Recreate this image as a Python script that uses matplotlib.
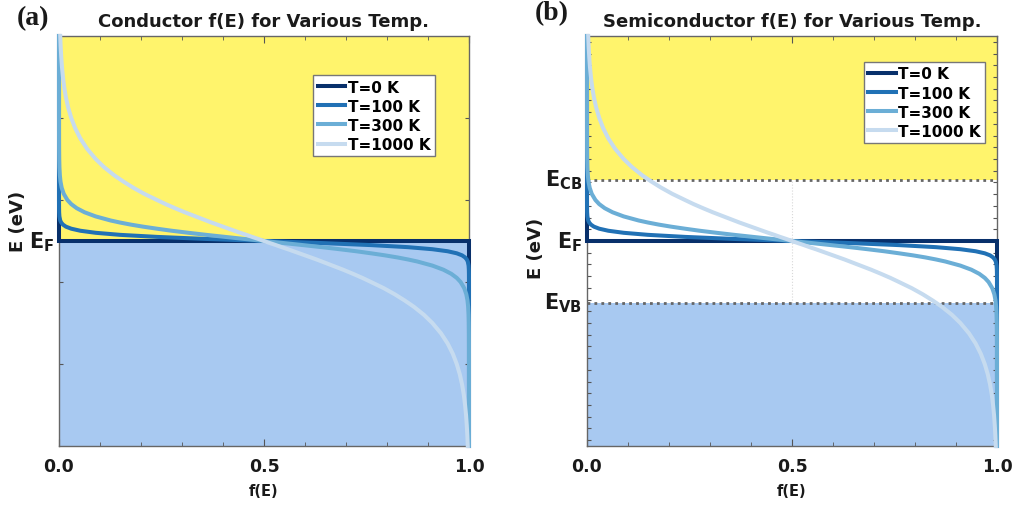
import numpy as np
import matplotlib
matplotlib.use("Agg")
import matplotlib.pyplot as plt
from matplotlib.ticker import MultipleLocator

plt.rcParams["mathtext.fontset"] = "dejavusans"

# energy relative to E_F (eV), sampled from top of the panels down to E_F
e_upper = [0.5, 0.475, 0.45, 0.425, 0.4, 0.375, 0.35, 0.325, 0.3, 0.275, 0.25, 0.225,
           0.2, 0.18, 0.16, 0.145, 0.13, 0.115, 0.1, 0.09, 0.08, 0.07, 0.06, 0.05,
           0.045, 0.04, 0.035, 0.03, 0.025, 0.02, 0.015, 0.01, 0.005, 0.0]
f_100_upper = [0.0, 0.0, 0.0, 0.0, 0.0, 0.0, 0.0, 0.0, 0.0, 0.0, 0.0, 0.0,
               0.0, 0.0, 0.0, 0.0, 0.0, 0.0, 0.00001, 0.00003, 0.0001, 0.0003, 0.00095, 0.003,
               0.0054, 0.0096, 0.0169, 0.0299, 0.0521, 0.0895, 0.149, 0.239, 0.359, 0.5]
f_300_upper = [0.0, 0.0, 0.0, 0.0, 0.0, 0.0, 0.0, 0.0, 0.00001, 0.00002, 0.00006, 0.00017,
               0.00044, 0.00095, 0.0021, 0.00365, 0.0065, 0.0116, 0.0205, 0.0298, 0.0433, 0.0625, 0.0894, 0.126,
               0.149, 0.175, 0.205, 0.239, 0.275, 0.316, 0.359, 0.405, 0.452, 0.5]
f_1000_upper = [0.003, 0.00402, 0.0054, 0.00716, 0.0096, 0.0127, 0.0169, 0.0225, 0.0299, 0.0395, 0.0521, 0.0684,
                0.0894, 0.110, 0.135, 0.157, 0.181, 0.208, 0.239, 0.260, 0.283, 0.307, 0.333, 0.359,
                0.372, 0.386, 0.400, 0.414, 0.428, 0.442, 0.457, 0.471, 0.486, 0.5]

# lower half mirrors the upper half about (0.5, E_F)
energy = e_upper + [-e for e in e_upper[-2::-1]]
curves = {
    "T=100 K": f_100_upper + [1 - f for f in f_100_upper[-2::-1]],
    "T=300 K": f_300_upper + [1 - f for f in f_300_upper[-2::-1]],
    "T=1000 K": f_1000_upper + [1 - f for f in f_1000_upper[-2::-1]],
}
f_0k = [0.0, 0.0, 1.0, 1.0]
e_0k = [0.5, 0.0, 0.0, -0.5]

colors = {"T=0 K": "#08306b", "T=100 K": "#2171b5", "T=300 K": "#6baed6", "T=1000 K": "#c6dbef"}

E_MIN, E_MAX = -0.5, 0.5
E_CB, E_VB = 0.15, -0.15

YELLOW = "#fff46c"
BLUE = "#a8c9f1"
TXT = "#1a1a1a"

fig = plt.figure(figsize=(10.14, 5.06), dpi=100)
ax_a = fig.add_axes([59 / 1014, 59 / 506, 410 / 1014, 410 / 506])
ax_b = fig.add_axes([587 / 1014, 59 / 506, 410 / 1014, 410 / 506])


def draw_curves(ax):
    ax.plot(f_0k, e_0k, color=colors["T=0 K"], lw=2.9, label="T=0 K", clip_on=False, zorder=3,
            solid_joinstyle="miter")
    for name, f in curves.items():
        ax.plot(f, energy, color=colors[name], lw=2.9, label=name, clip_on=False, zorder=3)


def style_axes(ax, yticks):
    ax.set_xlim(0, 1)
    ax.set_ylim(E_MIN, E_MAX)
    ax.xaxis.set_minor_locator(MultipleLocator(0.1))
    ax.set_xticks([0, 0.5, 1.0])
    ax.set_xticklabels(["0.0", "0.5", "1.0"], fontsize=12.5, fontweight="bold", color=TXT)
    ax.set_yticks(yticks)
    ax.set_yticklabels([])
    ax.tick_params(axis="both", which="both", direction="in", top=True, right=True, colors="#555555")
    ax.tick_params(axis="x", which="major", length=5, pad=8, labelcolor=TXT)
    ax.tick_params(axis="x", which="minor", length=3)
    ax.tick_params(axis="y", length=3)
    for sp in ax.spines.values():
        sp.set_color("#666666")
        sp.set_linewidth(1.0)
    ax.set_xlabel("f(E)", fontsize=10.5, fontweight="bold", color=TXT, labelpad=6)


def add_legend(ax, anchor):
    ax.legend(loc="upper right", bbox_to_anchor=anchor, prop={"weight": "bold", "size": 11},
              handlelength=1.8, handletextpad=0.15, labelspacing=0.27, borderpad=0.3,
              borderaxespad=0, fancybox=False, edgecolor="#777777", framealpha=1)


def level_label(ax, y, text):
    ax.text(-0.012, y, text, transform=ax.get_yaxis_transform(), ha="right", va="center",
            fontsize=15, color=TXT)


# (a) conductor
ax_a.axhspan(0, E_MAX, color=YELLOW, zorder=0, lw=0)
ax_a.axhspan(E_MIN, 0, color=BLUE, zorder=0, lw=0)
draw_curves(ax_a)
style_axes(ax_a, [-0.3, -0.1, 0.1, 0.3])
ax_a.set_title("Conductor f(E) for Various Temp.", fontsize=13, fontweight="bold", color=TXT, pad=7)
add_legend(ax_a, (0.917, 0.905))
level_label(ax_a, 0, r"$\mathbf{E}_{\mathbf{F}}$")
ax_a.text(-0.1, 0.05, "E (eV)", transform=ax_a.get_yaxis_transform(), rotation=90, ha="center",
          va="center", fontsize=13, fontweight="bold", color=TXT)
fig.text(33 / 1014, 1 - 19 / 506, "(a)", fontsize=20, fontweight="bold", family="Liberation Serif",
         ha="center", va="center", color=TXT)

# (b) semiconductor
ax_b.axhspan(E_CB, E_MAX, color=YELLOW, zorder=0, lw=0)
ax_b.axhspan(E_MIN, E_VB, color=BLUE, zorder=0, lw=0)
ax_b.plot([0.5, 0.5], [E_VB, E_CB], color="#d8d8d8", lw=0.8, ls=":", zorder=1)
ax_b.axhline(E_CB, color="#666666", lw=2, ls=(0, (1, 1.5)), zorder=2)
ax_b.axhline(E_VB, color="#666666", lw=2, ls=(0, (1, 1.5)), zorder=2)
draw_curves(ax_b)
style_axes(ax_b, [k / 35 for k in range(-17, 18)])
ax_b.set_title("Semiconductor f(E) for Various Temp.", fontsize=13, fontweight="bold", color=TXT, pad=7)
add_legend(ax_b, (0.971, 0.937))
level_label(ax_b, E_CB, r"$\mathbf{E}_{\mathbf{CB}}$")
level_label(ax_b, 0, r"$\mathbf{E}_{\mathbf{F}}$")
level_label(ax_b, E_VB, r"$\mathbf{E}_{\mathbf{VB}}$")
ax_b.text(-0.125, -0.015, "E (eV)", transform=ax_b.get_yaxis_transform(), rotation=90, ha="center",
          va="center", fontsize=13, fontweight="bold", color=TXT)
fig.text(552 / 1014, 1 - 14 / 506, "(b)", fontsize=20, fontweight="bold", family="Liberation Serif",
         ha="center", va="center", color=TXT)

fig.savefig("out.png", dpi=100)
